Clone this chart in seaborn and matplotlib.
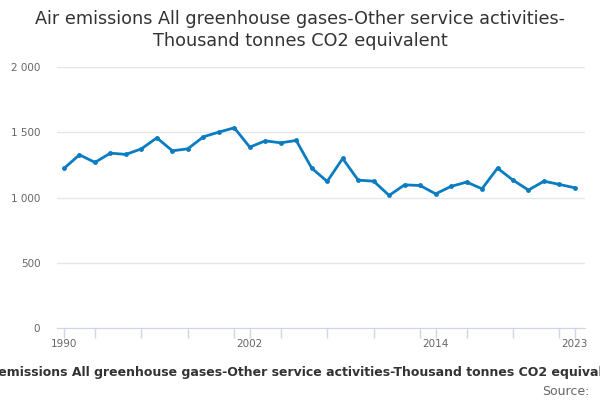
import matplotlib
matplotlib.use("Agg")
import matplotlib.pyplot as plt
import seaborn as sns
import pandas as pd
from matplotlib.ticker import FuncFormatter, MultipleLocator

years = list(range(1990, 2024))
emissions = [1223, 1327, 1269, 1340, 1330, 1373, 1457, 1358, 1373, 1465,
             1501, 1534, 1386, 1434, 1419, 1437, 1225, 1123, 1299, 1133,
             1125, 1016, 1097, 1092, 1028, 1085, 1118, 1067, 1225, 1133,
             1057, 1125, 1100, 1074]
label_years = [1990, 2002, 2014, 2023]
y_ticks = [0, 500, 1000, 1500, 2000]

title = "Air emissions All greenhouse gases-Other service activities-\nThousand tonnes CO2 equivalent"
x_title = "Air emissions All greenhouse gases-Other service activities-Thousand tonnes CO2 equivalent"

df = pd.DataFrame({"year": years, "value": emissions})

sns.set_style("white")
plt.rcParams["font.family"] = ["DejaVu Sans"]

fig = plt.figure(figsize=(6, 4), dpi=100)
ax = fig.add_axes([0.095, 0.18, 0.88, 0.6525])

sns.lineplot(data=df, x="year", y="value", ax=ax, color="#0a7dc2", linewidth=2,
             marker="o", markersize=3.5, markeredgewidth=0)

ax.set_xlim(1989.55, 2023.65)
ax.set_ylim(0, 2000)
ax.set_yticks(y_ticks)
ax.yaxis.set_major_formatter(FuncFormatter(lambda v, p: f"{int(v):,}".replace(",", " ")))
ax.grid(axis="y", color="#e6e6e6", linewidth=1)
ax.set_axisbelow(True)

ax.set_xticks(label_years)
ax.xaxis.set_minor_locator(MultipleLocator(3))
ax.tick_params(axis="x", which="both", length=7, color="#ccd6eb", width=1,
               labelsize=7.5, labelcolor="#666666", bottom=True, pad=1)
ax.tick_params(axis="y", length=0, labelsize=7.5, labelcolor="#666666", pad=12)

for s in ["top", "right", "left"]:
    ax.spines[s].set_visible(False)
ax.spines["bottom"].set_color("#ccd6eb")
ax.set_xlabel("")
ax.set_ylabel("")

fig.text(0.5, 0.975, title, ha="center", va="top", fontsize=12.7, color="#333333",
         linespacing=1.25)
fig.text(0.5, 0.068, x_title, ha="center", va="center", fontsize=9,
         fontweight="bold", color="#333333")
fig.text(0.982, 0.022, "Source:", ha="right", va="center", fontsize=9,
         color="#666666")

fig.savefig("out.png", dpi=100)
